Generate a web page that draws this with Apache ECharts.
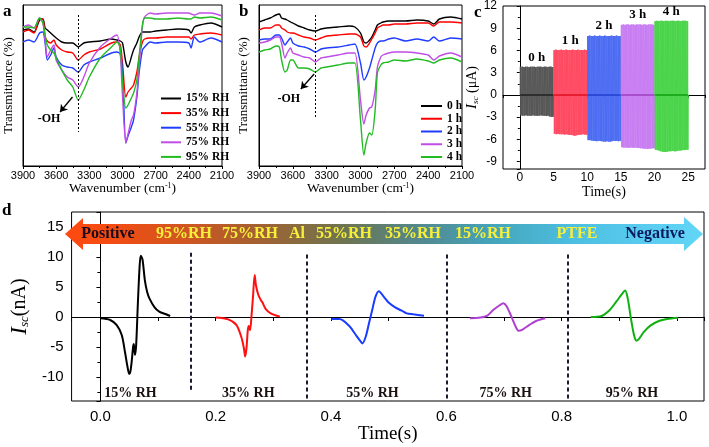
<!DOCTYPE html>
<html><head><meta charset="utf-8">
<script src="https://cdn.jsdelivr.net/npm/echarts@6/dist/echarts.min.js"></script>
<style>html,body{margin:0;padding:0;background:#fff}#c{width:709px;height:447px}</style>
</head><body><div id="c"></div>
<script>
// ---------- Panel a : FTIR at different RH ----------
const wnA = [3900,3850,3800,3750,3720,3700,3680,3650,3620,3600,3550,3500,3450,3400,3350,3300,3200,3100,3050,3020,3000,2970,2950,2920,2900,2870,2850,2820,2800,2750,2700,2600,2500,2400,2380,2350,2300,2200,2100];
const aRH15 = [136,137,134,146,147,138,136,133,130,128,124,123,123,119,123,124,125,127,126,125,123,104,99,109,116,123,129,134,134,134,135,136,137,136,133,139,141,143,139];
const aRH35 = [134,136,133,147,147,129,125,123,126,121,116,114,113,106,111,114,117,123,124,121,103,69,74,78,81,94,109,124,127,128,128,129,129,129,127,131,132,133,131];
const aRH55 = [124,126,124,133,134,123,106,111,118,109,101,99,98,94,101,104,108,113,114,112,95,23,30,39,46,69,93,116,119,124,123,124,124,123,118,129,124,128,124];
const aRH75 = [139,141,138,148,143,126,109,116,121,106,96,89,86,79,89,103,119,128,131,112,70,23,32,46,51,73,99,139,149,153,152,153,153,153,152,151,153,153,150];
const aRH95 = [139,139,138,148,143,131,121,116,113,108,96,86,79,66,76,89,108,119,124,118,84,58,61,68,73,86,109,141,148,148,147,147,148,147,147,149,148,149,146];
const aNames = ['15% RH','35% RH','55% RH','75% RH','95% RH'];

// ---------- Panel b : FTIR vs time ----------
const wnB = [3900,3850,3800,3750,3720,3700,3670,3650,3620,3600,3550,3500,3450,3400,3350,3300,3200,3100,3050,3000,2970,2950,2920,2900,2870,2850,2820,2800,2750,2700,2600,2500,2400,2350,2300,2200,2100];
const b0h = [144,146,148,151,152,148,147,146,144,143,140,138,136,135,137,138,139,140,139,133,124,123,126,129,136,141,143,144,145,145,145,146,145,142,147,149,147];
const b1h = [136,138,138,141,141,138,136,134,133,133,131,129,128,126,128,130,131,132,132,129,120,119,123,127,133,138,140,141,141,142,142,143,143,140,144,144,143];
const b2h = [126,127,127,131,131,128,121,124,128,123,120,119,117,114,117,118,119,121,122,103,86,89,98,106,118,123,125,125,127,128,125,127,125,129,125,128,127];
const b3h = [123,124,126,129,129,123,108,113,118,113,111,109,108,104,108,109,111,113,113,66,42,51,58,59,76,99,109,111,113,114,114,113,111,106,110,113,109];
const b4h = [114,116,117,120,119,106,94,96,106,106,98,98,97,94,98,99,101,103,103,46,11,23,33,31,56,93,101,103,104,106,105,107,105,103,106,108,104];
const bNames = ['0 h','1 h','2 h','3 h','4 h'];

// ---------- Panel c : Isc pulses (peak values per pulse) ----------
const cLabels = ['0 h','1 h','2 h','3 h','4 h'];
const cStarts = [0,5,10,15,20];
const c0Pos = [3.8,3.8,3.75,3.8,3.8,3.75,3.8,3.8,3.8,3.75,3.8,3.8,3.8,3.75,3.8,3.8,3.75,3.8,3.8,3.75];
const c0Neg = [-2.75,-2.8,-2.8,-2.75,-2.8,-2.8,-2.8,-2.75,-2.8,-2.8,-2.8,-2.8,-2.75,-2.8,-2.8,-2.85,-2.8,-2.9,-2.95,-2.95];
const c1Pos = [6.05,6.1,6.05,6.05,6.1,6.05,6.05,6.1,6.05,6.05,6.05,6.1,6.05,6.05,6.1,6.05,6.05,6.05,6.1,6.05];
const c1Neg = [-5.25,-5.3,-5.25,-5.3,-5.3,-5.3,-5.35,-5.3,-5.35,-5.4,-5.4,-5.45,-5.5,-5.45,-5.4,-5.35,-5.35,-5.3,-5.35,-5.35];
const c2Pos = [7.95,8.0,7.95,7.95,8.0,7.95,7.95,8.0,7.95,7.95,8.0,7.95,7.95,7.95,8.0,7.95,7.95,8.0,7.95,7.95];
const c2Neg = [-6.1,-6.1,-6.15,-6.2,-6.2,-6.25,-6.2,-6.2,-6.25,-6.3,-6.3,-6.25,-6.3,-6.3,-6.25,-6.2,-6.2,-6.2,-6.25,-6.2];
const c3Pos = [9.45,9.5,9.45,9.5,9.5,9.45,9.5,9.5,9.45,9.5,9.5,9.5,9.45,9.5,9.5,9.45,9.5,9.5,9.5,9.45];
const c3Neg = [-7.05,-7.1,-7.1,-7.1,-7.15,-7.1,-7.1,-7.15,-7.1,-7.15,-7.15,-7.2,-7.2,-7.25,-7.25,-7.3,-7.25,-7.25,-7.2,-7.2];
const c4Pos = [9.95,10.0,9.95,10.0,10.0,9.95,10.0,10.0,9.95,10.0,10.0,10.0,9.95,10.0,10.0,9.95,10.0,10.0,10.0,9.95];
const c4Neg = [-7.4,-7.45,-7.5,-7.6,-7.65,-7.7,-7.7,-7.65,-7.6,-7.6,-7.55,-7.6,-7.6,-7.55,-7.5,-7.5,-7.45,-7.45,-7.4,-7.4];

// ---------- Panel d : single pulses ----------
const dT15 = [0.0,0.017,0.028,0.037,0.043,0.047,0.050,0.052,0.0545,0.0568,0.058,0.060,0.062,0.065,0.068,0.070,0.073,0.077,0.081,0.085,0.094,0.102,0.114,0.121];
const dI15 = [-0.22,-0.5,-1.33,-3.0,-6.05,-8.3,-9.5,-9.1,-7.2,-4.9,-4.5,-6.3,-4.7,2.3,8.4,10.2,9.6,6.2,4.2,3.1,1.6,0.9,0.45,0.17];
const dT35 = [0.200,0.2216,0.2358,0.2443,0.2489,0.2511,0.2534,0.2557,0.2574,0.2596,0.262,0.2647,0.2676,0.2698,0.2739,0.2784,0.2812,0.2869,0.2954,0.3114];
const dI35 = [-0.1,-0.4,-1.3,-3.3,-5.2,-6.6,-5.2,-2.2,-1.5,-2.2,0.06,3.4,7.0,5.3,3.7,2.8,2.4,1.3,0.6,0.06];
const dT55 = [0.4006,0.4147,0.4317,0.4431,0.4517,0.4545,0.4602,0.4659,0.4716,0.4772,0.4829,0.4914,0.4999,0.5113,0.5227,0.5313,0.5426,0.5613];
const dI55 = [-0.33,-0.33,-1.5,-3.0,-4.1,-4.4,-3.3,-1.05,1.2,3.4,4.3,3.4,2.4,1.6,1.05,0.6,0.45,0.22];
const dT75 = [0.6409,0.6591,0.6704,0.6818,0.6932,0.6988,0.7045,0.7130,0.7198,0.7256,0.7329,0.7443,0.7557,0.7716];
const dI75 = [-0.22,-0.1,0.17,1.2,2.0,2.3,1.8,0.06,-1.5,-2.3,-2.05,-1.3,-0.67,-0.22];
const dT95 = [0.8505,0.8693,0.8835,0.8948,0.9045,0.9102,0.9147,0.9193,0.9238,0.9272,0.9301,0.9346,0.9431,0.9545,0.9687,0.9829,1.0017];
const dI95 = [0,0.17,1.17,2.55,3.8,4.4,3.1,0.33,-2.2,-3.55,-3.95,-3.6,-2.45,-1.4,-0.67,-0.33,-0.12];
const dLabels = ['15% RH','35% RH','55% RH','75% RH','95% RH'];
const dLabelX = [0.052,0.2566,0.472,0.703,0.922];
const dLabelY = -12.7;
const dSepX = [0.157,0.358,0.601,0.81];
const dSepTop = [10.7,10.4,10.4,10.4];
const dSepBot = [-12.2,-13.8,-13.8,-13.8];
const arrowWords = ['Positive','95%RH','75%RH','Al','55%RH','35%RH','15%RH','PTFE','Negative'];

// ---------- styling ----------
const SERIF = "'Liberation Serif','Times New Roman',serif";
const SANS = "'Liberation Sans',Arial,sans-serif";
const colA = ['#000000','#ff0000','#1f3cff','#c04ee6','#22bb22'];
const colC = ['#555555','#ff4860','#4a6af2','#c87cf2','#48d448'];
const colC0 = ['#222222','#e01020','#2040d0','#a040c0','#10a010'];
const colD = ['#000000','#ff1010','#1a3cff','#b040d0','#10b010'];

const zip = (xs, ys) => xs.map((x, i) => [x, ys[i]]);
function pulses(start, pos, neg) {
  const step = 5 / pos.length, out = [];
  pos.forEach((p, i) => {
    const t = start + 0.05 + i * step;
    out.push([t, 0], [t + step * 0.1, p], [t + step * 0.3, neg[i]], [t + step * 0.5, p], [t + step * 0.7, neg[i]], [t + step * 0.85, 0]);
  });
  out.push([start + 4.97, 0]);
  return out;
}

const chart = echarts.init(document.getElementById('c'), null, {renderer: 'canvas'});
const series = [];
const txtLabel = (fmt, size, pos) => ({show:true, position:pos || 'inside', formatter:fmt,
  fontFamily:SERIF, fontWeight:'bold', fontSize:size, color:'#000', opacity:1});

// panel a series
[aRH15, aRH35, aRH55, aRH75, aRH95].forEach((arr, i) => {
  const s = {type:'line', name:aNames[i], xAxisIndex:0, yAxisIndex:0, data:zip(wnA, arr),
    symbol:'none', smooth:0.25, lineStyle:{width:1.4, color:colA[i]}, itemStyle:{color:colA[i]}, z:3};
  if (i === 0) s.markLine = {silent:true, symbol:'none', label:{show:false},
    lineStyle:{color:'#000', type:[2,2], width:1}, data:[[{coord:[3400,151]},{coord:[3400,34]}]]};
  if (i === 1) s.markLine = {silent:true, symbol:['none','arrow'], symbolSize:7, label:{show:false},
    lineStyle:{color:'#000', type:'solid', width:1.3}, data:[[{coord:[3452,69]},{coord:[3565,54]}]]};
  series.push(s);
});
series.push({type:'scatter', name:'aOH', xAxisIndex:0, yAxisIndex:0, data:[[3665,47]], symbolSize:0,
  itemStyle:{opacity:1}, label:txtLabel('-OH', 12)});

// panel b series
[b0h, b1h, b2h, b3h, b4h].forEach((arr, i) => {
  const s = {type:'line', name:bNames[i], xAxisIndex:1, yAxisIndex:1, data:zip(wnB, arr),
    symbol:'none', smooth:0.25, lineStyle:{width:1.4, color:colA[i]}, itemStyle:{color:colA[i]}, z:3};
  if (i === 0) s.markLine = {silent:true, symbol:'none', label:{show:false},
    lineStyle:{color:'#000', type:[2,2], width:1}, data:[[{coord:[3400,151]},{coord:[3400,48]}]]};
  if (i === 1) s.markLine = {silent:true, symbol:['none','arrow'], symbolSize:7, label:{show:false},
    lineStyle:{color:'#000', type:'solid', width:1.3}, data:[[{coord:[3411,92]},{coord:[3529,77]}]]};
  series.push(s);
});
series.push({type:'scatter', name:'bOH', xAxisIndex:1, yAxisIndex:1, data:[[3636,67]], symbolSize:0,
  itemStyle:{opacity:1}, label:txtLabel('-OH', 12)});

// panel c series
const cPos = [c0Pos, c1Pos, c2Pos, c3Pos, c4Pos];
const cNeg = [c0Neg, c1Neg, c2Neg, c3Neg, c4Neg];
cPos.forEach((p, i) => {
  series.push({type:'line', name:'c' + i, xAxisIndex:2, yAxisIndex:2, data:pulses(cStarts[i], p, cNeg[i]),
    symbol:'none', lineStyle:{width:1, color:colC[i], opacity:0.9}, itemStyle:{color:colC[i]},
    markLine:{silent:true, symbol:'none', label:{show:false}, lineStyle:{color:colC0[i], type:'solid', width:1.5},
      data:[[{coord:[cStarts[i] + 0.05, 0]},{coord:[cStarts[i] + 4.95, 0]}]]}});
});
series.push({type:'scatter', name:'cLab', xAxisIndex:2, yAxisIndex:2,
  data:cStarts.map((s, i) => [s + 2.5, Math.max(...cPos[i])]), symbolSize:0, itemStyle:{opacity:1},
  label:Object.assign(txtLabel((p) => cLabels[p.dataIndex], 13, 'top'), {distance:3})});

// panel d series
[[dT15,dI15],[dT35,dI35],[dT55,dI55],[dT75,dI75],[dT95,dI95]].forEach((pr, i) => {
  const s = {type:'line', name:'d' + i, xAxisIndex:3, yAxisIndex:3, data:zip(pr[0], pr[1]),
    symbol:'none', smooth:0.3, lineStyle:{width:2, color:colD[i]}, itemStyle:{color:colD[i]}};
  if (i === 0) s.markLine = {silent:true, symbol:'none', label:{show:false},
    lineStyle:{color:'#1a1a30', type:[4,3], width:2},
    data:dSepX.map((x, k) => [{coord:[x, dSepTop[k]]},{coord:[x, dSepBot[k]]}])};
  series.push(s);
});
series.push({type:'scatter', name:'dLab', xAxisIndex:3, yAxisIndex:3,
  data:dLabelX.map((x) => [x, dLabelY]), symbolSize:0, itemStyle:{opacity:1},
  label:Object.assign(txtLabel((p) => dLabels[p.dataIndex], 14), {color:'#1a1010'})});

const frame = {show:true, borderColor:'#000', borderWidth:1, backgroundColor:'transparent'};
const axLine = {show:true, lineStyle:{color:'#000', width:1}};
const wnName = {name:'Wavenumber (cm{s|-1})', nameLocation:'middle', nameGap:15,
  nameTextStyle:{fontFamily:SERIF, fontSize:13.5, color:'#000', rich:{s:{fontSize:8, fontFamily:SERIF, verticalAlign:'top', padding:[0,0,6,0]}}}};
const transName = {name:'Transmittance (%)', nameLocation:'middle', nameTextStyle:{fontFamily:SERIF, fontSize:13, color:'#000'}};
const wnAxis = (g) => Object.assign({type:'value', gridIndex:g, min:2100, max:3900, interval:300, inverse:true,
  axisLine:axLine, axisTick:{show:true, inside:false, length:3, lineStyle:{color:'#000'}},
  minorTick:{show:true, splitNumber:2, length:2, lineStyle:{color:'#000'}},
  splitLine:{show:false}, minorSplitLine:{show:false},
  axisLabel:{fontFamily:SANS, fontSize:11, color:'#000', margin:4, formatter:(v) => String(v)}}, wnName);

const option = {
  animation:false,
  backgroundColor:'#fff',
  grid:[
    Object.assign({left:23, right:487, top:5, bottom:281}, frame),
    Object.assign({left:259, right:247, top:5, bottom:281}, frame),
    Object.assign({left:503, right:4, top:5, bottom:278}, frame),
    Object.assign({left:60, right:5, top:212, bottom:46}, frame)
  ],
  xAxis:[
    wnAxis(0), wnAxis(1),
    {type:'value', gridIndex:2, min:-2.5, max:27.5, splitNumber:6,
      axisLine:axLine, axisTick:{show:true, length:3, lineStyle:{color:'#000'}},
      minorTick:{show:true, splitNumber:2, length:2, lineStyle:{color:'#000'}},
      splitLine:{show:false},
      axisLabel:{fontFamily:SANS, fontSize:12, color:'#000', margin:3, showMinLabel:false, showMaxLabel:false},
      name:'Time(s)', nameLocation:'middle', nameGap:15, nameTextStyle:{fontFamily:SERIF, fontSize:14, color:'#000'}},
    {type:'value', gridIndex:3, min:-0.05, max:1.047, splitNumber:5,
      axisLine:axLine, axisTick:{show:true, length:4, lineStyle:{color:'#000'}},
      minorTick:{show:true, splitNumber:2, length:4, lineStyle:{color:'#000'}},
      splitLine:{show:false},
      axisLabel:{fontFamily:SANS, fontSize:15, color:'#000', margin:8, showMinLabel:false, showMaxLabel:false,
        formatter:(v) => v.toFixed(1)},
      name:'Time(s)', nameLocation:'middle', nameGap:19, nameTextStyle:{fontFamily:SERIF, fontSize:19, color:'#000'}}
  ],
  yAxis:[
    Object.assign({type:'value', gridIndex:0, min:0, max:161, axisLine:axLine, axisTick:{show:false},
      axisLabel:{show:false}, splitLine:{show:false}, nameGap:8}, transName),
    Object.assign({type:'value', gridIndex:1, min:0, max:161, axisLine:axLine, axisTick:{show:false},
      axisLabel:{show:false}, splitLine:{show:false}, nameGap:9}, transName),
    {type:'value', gridIndex:2, min:-10, max:12, splitNumber:7,
      axisLine:axLine, axisTick:{show:true, length:3, lineStyle:{color:'#000'}},
      minorTick:{show:true, splitNumber:2, length:2, lineStyle:{color:'#000'}},
      splitLine:{show:false},
      axisLabel:{fontFamily:SANS, fontSize:12, color:'#000', margin:6, showMinLabel:false},
      name:'{i|I}{s|sc}{n| (μA)}', nameLocation:'middle', nameGap:17,
      nameTextStyle:{color:'#000', rich:{i:{fontFamily:SERIF, fontStyle:'italic', fontSize:15},
        s:{fontFamily:SERIF, fontStyle:'italic', fontSize:9, verticalAlign:'bottom', padding:[6,0,0,0]},
        n:{fontFamily:SERIF, fontSize:14}}}},
    {type:'value', gridIndex:3, min:-14, max:17.5, splitNumber:6,
      axisLine:axLine, axisTick:{show:true, length:4, lineStyle:{color:'#000'}},
      minorTick:{show:true, splitNumber:2, length:3, lineStyle:{color:'#000'}},
      splitLine:{show:false},
      axisLabel:{fontFamily:SANS, fontSize:15, color:'#000', margin:8, showMinLabel:false, showMaxLabel:false},
      name:'{i|I}{s|sc}{n|(nA)}', nameLocation:'middle', nameGap:38,
      nameTextStyle:{color:'#000', rich:{i:{fontFamily:SERIF, fontStyle:'italic', fontSize:23},
        s:{fontFamily:SERIF, fontStyle:'italic', fontSize:13, verticalAlign:'bottom', padding:[8,0,0,0]},
        n:{fontFamily:SERIF, fontSize:20}}}}
  ],
  legend:[
    {data:aNames, orient:'vertical', left:156, top:87, icon:'rect', itemWidth:20, itemHeight:2, itemGap:1.6,
      selectedMode:false, textStyle:{fontFamily:SERIF, fontWeight:'bold', fontSize:11.5, color:'#000', lineHeight:13}},
    {data:bNames, orient:'vertical', left:416, top:95, icon:'rect', itemWidth:21, itemHeight:2, itemGap:0.75,
      selectedMode:false, textStyle:{fontFamily:SERIF, fontWeight:'bold', fontSize:11.5, color:'#000', lineHeight:12}}
  ],
  graphic:[
    {type:'text', left:3, top:3, style:{text:'a', fontFamily:SERIF, fontWeight:'bold', fontSize:17, fill:'#000'}},
    {type:'text', left:239, top:3, style:{text:'b', fontFamily:SERIF, fontWeight:'bold', fontSize:17, fill:'#000'}},
    {type:'text', left:474, top:4, style:{text:'c', fontFamily:SERIF, fontWeight:'bold', fontSize:17, fill:'#000'}},
    {type:'text', left:2, top:202, style:{text:'d', fontFamily:SERIF, fontWeight:'bold', fontSize:17, fill:'#000'}},
    {type:'polygon', z:5, shape:{points:[[65,234],[83,218],[83,224],[684,224],[684,217],[703,234],[684,251],[684,244],[83,244],[83,250]]},
      style:{fill:new echarts.graphic.LinearGradient(0,0,1,0,[
        {offset:0, color:'#ff4a10'},{offset:0.07, color:'#f44c12'},{offset:0.19, color:'#cf5622'},
        {offset:0.29, color:'#a85f30'},{offset:0.36, color:'#8a6a3e'},{offset:0.44, color:'#6c7552'},
        {offset:0.55, color:'#54878c'},{offset:0.66, color:'#45a2b8'},{offset:0.8, color:'#4dc0e2'},
        {offset:0.92, color:'#5acdf0'},{offset:1, color:'#62d6f6'}])}},
    ...arrowWords.map((w, k) => ({type:'text', z:6,
      x:[108,184,250,297,344,413,483,577,655][k], y:234,
      style:{text:w, fontFamily:SERIF, fontWeight:'bold', fontSize:16,
        fill: k === 0 ? '#1a0a1a' : (k === 8 ? '#0a1a60' : '#f6f03a'),
        align:'center', verticalAlign:'middle'}}))
  ],
  series:series
};
chart.setOption(option);
</script></body></html>
